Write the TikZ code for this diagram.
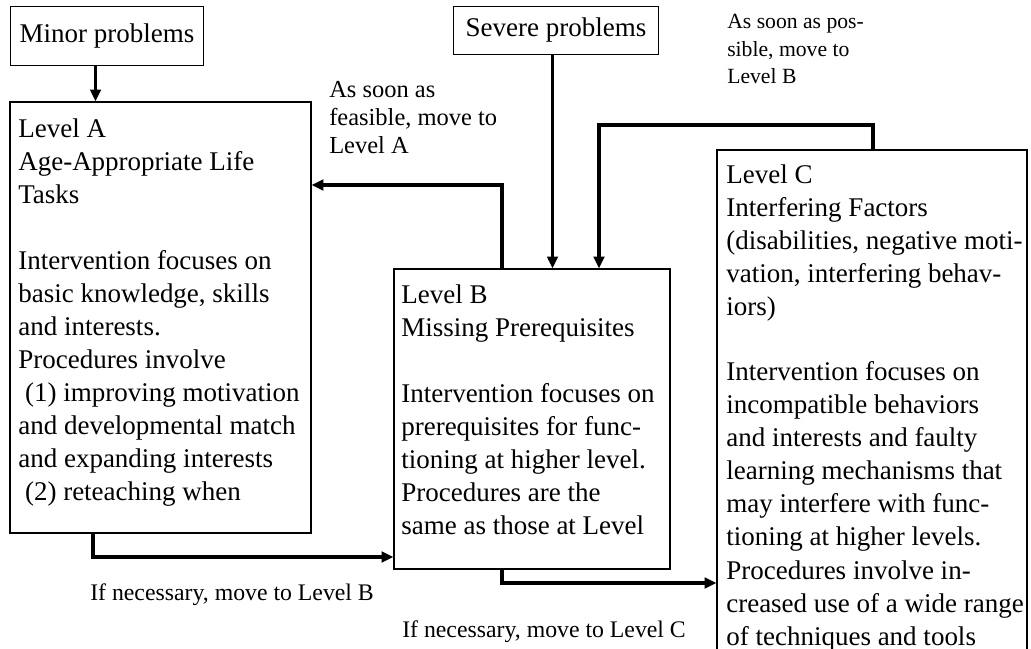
\documentclass[tikz,border=0pt]{standalone}
\usepackage{fontspec}
\setmainfont{Liberation Serif}
\usetikzlibrary{arrows.meta,fit}

\newcommand{\boxfont}{\fontsize{19.2}{23.5}\selectfont}
\newcommand{\notefont}{\fontsize{17.4}{19.9}\selectfont}
\newcommand{\smallnotefont}{\fontsize{15.4}{19.6}\selectfont}
\newcommand{\movefont}{\fontsize{16.9}{19.9}\selectfont}

\tikzset{
  levelbox/.style={draw, line width=0.75pt, inner sep=0pt},
  levtext/.style={anchor=north west, inner sep=0pt, align=left, font=\boxfont},
  probbox/.style={draw, line width=0.75pt, font=\boxfont, anchor=north west},
  note/.style={anchor=north west, inner sep=0pt, align=left, font=\notefont},
  conn/.style={line width=2.6pt, -{Triangle[length=8.5pt,width=7.5pt]}}
}

\begin{document}
\begin{tikzpicture}[x=0.025cm, y=-0.025cm]
\useasboundingbox (0,0) rectangle (1031,649);
\clip (0,0) rectangle (1031,649);

% Problems
\node[probbox, minimum width=137.3pt, minimum height=42pt] (minor) at (10,6) {Minor problems};
\node[probbox, minimum width=145.8pt, minimum height=34.1pt] (severe) at (453,6) {Severe problems};

% Levels
\node[levelbox, fit={(10,102) (311,533)}] (levA) {};
\node[levelbox, fit={(394,269) (670,569)}] (levB) {};
\node[levelbox, fit={(717,150) (1027,700)}] (levC) {};

\node[levtext] (levAtxt) at (18,118) {Level A\\
Age-Appropriate Life\\
Tasks\\[23.5pt]
Intervention focuses on\\
basic knowledge, skills\\
and interests.\\
Procedures involve\\
\hspace*{0.25em}(1) improving motivation\\
and developmental match\\
and expanding interests\\
\hspace*{0.25em}(2) reteaching when};

\node[levtext] (levBtxt) at (401,284) {Level B\\
Missing Prerequisites\\[23.5pt]
Intervention focuses on\\
prerequisites for func-\\
tioning at higher level.\\
Procedures are the\\
same as those at Level};

\node[levtext] (levCtxt) at (726,164) {Level C\\
Interfering Factors\\
(disabilities, negative moti-\\
vation, interfering behav-\\
iors)\\[23.1pt]
Intervention focuses on\\
incompatible behaviors\\
and interests and faulty\\
learning mechanisms that\\
may interfere with func-\\
tioning at higher levels.\\
Procedures involve in-\\
creased use of a wide range\\
of techniques and tools};

% Connectors
\coordinate (upA) at (502,185);
\coordinate (upC) at (873,125);
\coordinate (downA) at (93,557);
\coordinate (downB) at (502,583);

\draw[conn] ([xshift=-8.2pt]minor.south) -- ([xshift=-8.2pt]minor.south |- levA.north);
\draw[conn] ([xshift=-2.5pt]severe.south) -- ([xshift=-2.5pt]severe.south |- levB.north);
\draw[conn] (levB.north -| upA) -- (upA) -- (upA -| levA.east);
\draw[conn] (levC.north -| upC) -- (upC) -- (upC -| 599,0) -- (levB.north -| 599,0);
\draw[conn] (levA.south -| downA) -- (downA) -- (downA -| levB.west);
\draw[conn] (levB.south -| downB) -- (downB) -- (downB -| levC.west);

% Labels
\node[note] (feasA) at (329,81) {As soon as\\feasible, move to\\Level A};
\node[note, font=\smallnotefont] (possB) at (727,14) {As soon as pos-\\sible, move to\\Level B};
\node[note, font=\movefont, anchor=base west] (necB) at (90,600) {If necessary, move to Level B};
\node[note, font=\movefont, anchor=base west] (necC) at (402,637) {If necessary, move to Level C};

\end{tikzpicture}
\end{document}
